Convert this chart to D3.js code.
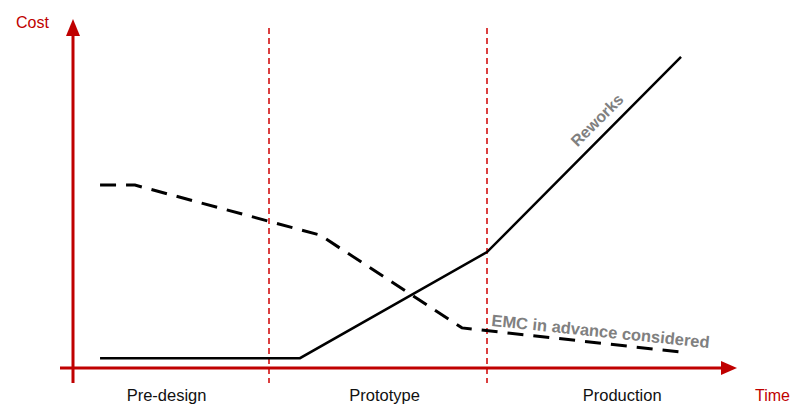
<!DOCTYPE html>
<html><head><meta charset="utf-8">
<script src="https://cdn.jsdelivr.net/npm/d3@7"></script>
<style>body{margin:0;background:#fff}svg{display:block}</style>
</head><body>
<svg id="c" width="800" height="413"></svg>
<script>
const phases = ["Pre-design", "Prototype", "Production"];
const phaseLabelX = [0.53, 1.53, 2.62];
const phaseBounds = [1, 2];
const reworksX = [0.225, 1.142, 2.0, 2.89];
const reworksY = [2.9, 2.9, 34.1, 91.5];
const emcX = [0.225, 0.385, 1.234, 1.885, 2.89];
const emcY = [53.8, 53.8, 39.1, 11.8, 4.7];
const axisTitleY = "Cost";
const axisTitleX = "Time";
const reworksLabel = "Reworks";
const emcLabel = "EMC in advance considered";

const red = "#c00000", grey = "#808080";
const svg = d3.select("#c");
const x = d3.scaleLinear().domain([0, 3]).range([51, 705]);
const y = d3.scaleLinear().domain([0, 100]).range([368, 28]);
const font = "'Liberation Sans', Arial, sans-serif";

// dividers
svg.selectAll("line.div").data(phaseBounds).join("line")
  .attr("x1", d => x(d)).attr("x2", d => x(d))
  .attr("y1", 28).attr("y2", 383)
  .attr("stroke", "#d00000").attr("stroke-width", 1.5).attr("stroke-dasharray", "6,4");

// axes
svg.append("line").attr("x1", 73).attr("x2", 73).attr("y1", 383).attr("y2", 34)
  .attr("stroke", red).attr("stroke-width", 3);
svg.append("path").attr("d", "M73,19 L66,36 L80,36 Z").attr("fill", red);
svg.append("line").attr("x1", 60).attr("x2", 722).attr("y1", 368).attr("y2", 368)
  .attr("stroke", red).attr("stroke-width", 3);
svg.append("path").attr("d", "M737,368 L721,361 L721,375 Z").attr("fill", red);

const line = d3.line().x(d => x(d[0])).y(d => y(d[1]));
svg.append("path").datum(reworksX.map((v, i) => [v, reworksY[i]]))
  .attr("d", line).attr("fill", "none").attr("stroke", "#000").attr("stroke-width", 2.5);
svg.append("path").datum(emcX.map((v, i) => [v, emcY[i]]))
  .attr("d", line).attr("fill", "none").attr("stroke", "#000").attr("stroke-width", 3)
  .attr("stroke-dasharray", "16,10");

// labels
svg.append("text").attr("x", 16).attr("y", 28).text(axisTitleY)
  .attr("fill", red).attr("font-family", font).attr("font-size", 16);
svg.append("text").attr("x", 755).attr("y", 401).text(axisTitleX)
  .attr("fill", red).attr("font-family", font).attr("font-size", 16);
svg.selectAll("text.ph").data(phases).join("text")
  .attr("x", (d, i) => x(phaseLabelX[i])).attr("y", 401).attr("text-anchor", "middle")
  .attr("font-family", font).attr("font-size", 16.5).attr("fill", "#111").text(d => d);

svg.append("text").attr("transform", "translate(601,124) rotate(-45)")
  .attr("text-anchor", "middle").attr("font-family", font).attr("font-weight", "bold")
  .attr("font-size", 16).attr("fill", grey).text(reworksLabel);
svg.append("text").attr("transform", "translate(600,337) rotate(5.8)")
  .attr("text-anchor", "middle").attr("font-family", font).attr("font-weight", "bold")
  .attr("font-size", 16.5).attr("fill", grey).text(emcLabel);
</script>
</body></html>
